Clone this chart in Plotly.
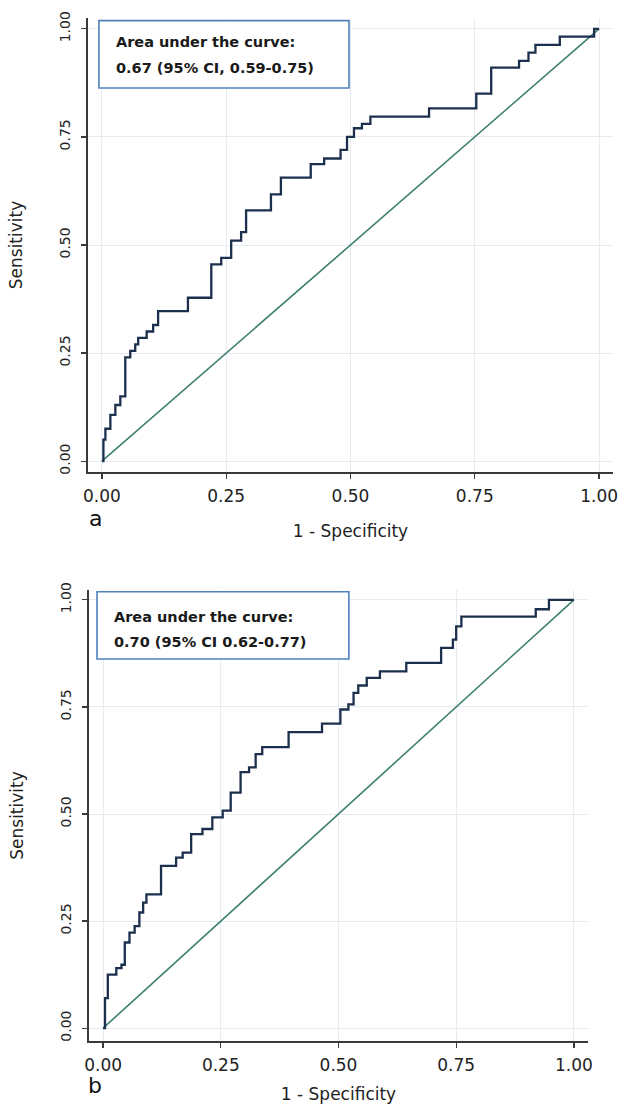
import plotly.graph_objects as go

# ---- data ----
fpr_a = [0, 0.003, 0.007, 0.017, 0.027, 0.037, 0.047, 0.057, 0.067, 0.073, 0.09, 0.103, 0.113,
         0.167, 0.173, 0.213, 0.22, 0.24, 0.26, 0.28, 0.29, 0.333, 0.34, 0.36, 0.407, 0.42,
         0.447, 0.48, 0.493, 0.507, 0.523, 0.54, 0.648, 0.658, 0.747, 0.753, 0.776, 0.783,
         0.819, 0.839, 0.858, 0.872, 0.918, 0.921, 0.98, 0.99, 1.0]
tpr_a = [0, 0.05, 0.075, 0.107, 0.13, 0.15, 0.24, 0.255, 0.27, 0.285, 0.30, 0.315, 0.347,
         0.347, 0.378, 0.378, 0.455, 0.47, 0.51, 0.53, 0.58, 0.58, 0.617, 0.656, 0.656, 0.687,
         0.70, 0.72, 0.75, 0.77, 0.78, 0.797, 0.797, 0.816, 0.816, 0.85, 0.85, 0.91,
         0.91, 0.926, 0.945, 0.963, 0.963, 0.982, 0.982, 1.0, 1.0]

fpr_b = [0, 0.004, 0.01, 0.025, 0.028, 0.039, 0.046, 0.056, 0.067, 0.077,
         0.085, 0.092, 0.116, 0.123, 0.155, 0.169, 0.187, 0.211, 0.232, 0.254,
         0.271, 0.292, 0.31, 0.324, 0.338, 0.39, 0.394, 0.458, 0.465, 0.504,
         0.521, 0.532, 0.542, 0.56, 0.588, 0.641, 0.644, 0.687, 0.718, 0.743,
         0.75, 0.761, 0.915, 0.919, 0.944, 0.947, 1.0]
tpr_b = [0, 0.07, 0.125, 0.125, 0.14, 0.148, 0.2, 0.223, 0.238, 0.27,
         0.293, 0.3125, 0.3125, 0.379, 0.398, 0.41, 0.453, 0.465, 0.492, 0.508,
         0.55, 0.598, 0.609, 0.64, 0.656, 0.656, 0.691, 0.691, 0.711, 0.744,
         0.756, 0.783, 0.8, 0.818, 0.833, 0.833, 0.853, 0.853, 0.888, 0.907,
         0.938, 0.961, 0.961, 0.978, 0.978, 1.0, 1.0]

ref_line = [0, 1]
tick_vals = [0, 0.25, 0.5, 0.75, 1.0]
tick_text = ["0.00", "0.25", "0.50", "0.75", "1.00"]
auc_text_a = ["Area under the curve:", "0.67 (95% CI, 0.59-0.75)"]
auc_text_b = ["Area under the curve:", "0.70 (95% CI 0.62-0.77)"]
panel_labels = ["a", "b"]

ROC_COLOR = "#1c2f4d"
REF_COLOR = "#3e7f6e"
GRID = "#e6ebf2"
AXIS = "#3a3a3a"
TXT = "#222222"
FONT = "DejaVu Sans"

fig = go.Figure()
for (fx, ty, xa, ya) in [(fpr_a, tpr_a, "x", "y"), (fpr_b, tpr_b, "x2", "y2")]:
    fig.add_trace(go.Scatter(x=ref_line, y=ref_line, mode="lines", xaxis=xa, yaxis=ya,
                             line=dict(color=REF_COLOR, width=1.6), showlegend=False))
    fig.add_trace(go.Scatter(x=fx, y=ty, mode="lines", xaxis=xa, yaxis=ya,
                             line=dict(color=ROC_COLOR, width=2.3, shape="hv"), showlegend=False))

W, H = 622, 1105
def px_dom_x(a, b):
    return [a / W, b / W]
def px_dom_y(top, bottom):
    return [1 - bottom / H, 1 - top / H]

axis_common = dict(
    tickvals=tick_vals, ticktext=tick_text, showline=True, linecolor=AXIS, linewidth=1.6,
    ticks="outside", ticklen=5, tickwidth=1.3, tickcolor=AXIS, showgrid=True, gridcolor=GRID,
    gridwidth=1, zeroline=False, automargin=False, ticklabeloverflow="allow",
    title_font=dict(family=FONT, size=17, color=TXT), fixedrange=True,
)
xfont = dict(family=FONT, size=17, color=TXT)
yfont = dict(family=FONT, size=14, color=TXT)

fig.update_layout(
    width=W, height=H, margin=dict(l=0, r=0, t=0, b=0),
    paper_bgcolor="white", plot_bgcolor="white", showlegend=False,
    xaxis=dict(axis_common, domain=px_dom_x(88, 613), range=[-0.028, 1.028], anchor="y",
               tickfont=xfont, title=dict(text="1 - Specificity", standoff=20), ticklabelstandoff=3),
    yaxis=dict(axis_common, domain=px_dom_y(18, 472), range=[-0.025, 1.025], anchor="x",
               tickfont=yfont, tickangle=-90, title=dict(text="Sensitivity", standoff=30),
               ticklabelstandoff=6),
    xaxis2=dict(axis_common, domain=px_dom_x(89, 588), range=[-0.03, 1.03], anchor="y2",
                tickfont=xfont, title=dict(text="1 - Specificity", standoff=14), ticklabelstandoff=3),
    yaxis2=dict(axis_common, domain=px_dom_y(590, 1041), range=[-0.03, 1.023], anchor="x2",
                tickfont=yfont, tickangle=-90, title=dict(text="Sensitivity", standoff=30),
                ticklabelstandoff=6),
)

# AUC boxes
boxes = [("x", "y", -0.006, 0.497, 0.863, 1.019, 0.026, [0.97, 0.91], auc_text_a),
         ("x2", "y2", -0.013, 0.522, 0.862, 1.019, 0.021, [0.96, 0.902], auc_text_b)]
for xa, ya, x0, x1, y0, y1, tx, tys, texts in boxes:
    fig.add_shape(type="rect", xref=xa, yref=ya, x0=x0, x1=x1, y0=y0, y1=y1,
                  line=dict(color="#4f81bd", width=1.6), fillcolor="white", layer="above")
    for t, yy in zip(texts, tys):
        fig.add_annotation(xref=xa, yref=ya, x=tx, y=yy, text="<b>" + t + "</b>", showarrow=False,
                           xanchor="left", yanchor="middle", borderpad=0,
                           font=dict(family=FONT, size=14.5, color="#1a1a1a"))

# panel labels
for lab, ytop in zip(panel_labels, [518, 1085]):
    fig.add_annotation(xref="paper", yref="paper", x=95 / W, y=1 - ytop / H, text=lab,
                       showarrow=False, xanchor="center", yanchor="middle",
                       font=dict(family=FONT, size=22, color="#111111"))

fig.write_html("out.html", config={"displayModeBar": False, "staticPlot": True},
               post_script="document.body.style.margin='0px';")
